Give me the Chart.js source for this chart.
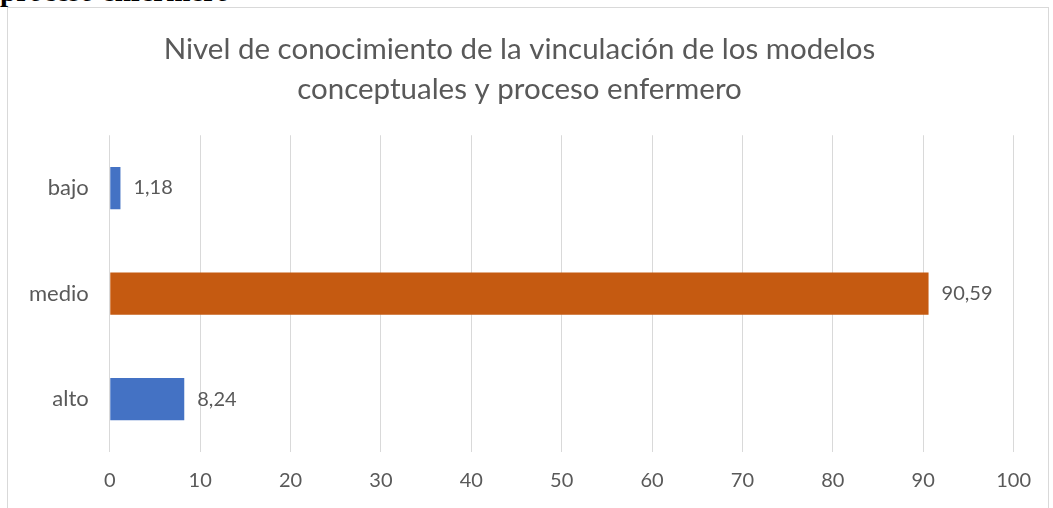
<!DOCTYPE html>
<html>
<head>
<meta charset="utf-8">
<script src="https://cdn.jsdelivr.net/npm/chart.js@4"></script>
<style>
  body { margin: 0; background: #fff; width: 1053px; height: 508px; overflow: hidden; position: relative; }
  #cut { position: absolute; left: 0; top: -25px; line-height: 30px; font: bold 29px "Liberation Serif", serif; color: #000; white-space: nowrap; }
  #frame { position: absolute; left: 7px; top: 7px; width: 1040px; height: 520px; border: 1px solid #d9d9d9; background: #fff; }
  canvas { display: block; }
</style>
</head>
<body>
<div id="cut">proceso enfermero</div>
<div id="frame"><canvas id="nivelChart" width="1040" height="510"></canvas></div>
<script>
const categorias = ['bajo', 'medio', 'alto'];
const porcentajes = [1.18, 90.59, 8.24];
const colores = ['#4472C4', '#C55A11', '#4472C4'];
const ticksX = [0, 10, 20, 30, 40, 50, 60, 70, 80, 90, 100];

// etiquetas de valor a la derecha de cada barra
const etiquetas = {
    id: 'etiquetas',
    afterDatasetsDraw(chart) {
        const ctx = chart.ctx;
        const meta = chart.getDatasetMeta(0);
        ctx.save();
        ctx.font = '20px Lato';
        ctx.fillStyle = '#595959';
        ctx.textBaseline = 'middle';
        meta.data.forEach((bar, i) => {
            const txt = porcentajes[i].toFixed(2).replace('.', ',');
            ctx.fillText(txt, bar.x + 13, bar.y);
        });
        ctx.restore();
    }
};

const ctx = document.getElementById('nivelChart').getContext('2d');
const nivelChart = new Chart(ctx, {
    type: 'bar',
    data: {
        labels: categorias,
        datasets: [{
            data: porcentajes,
            backgroundColor: colores,
            categoryPercentage: 1,
            barPercentage: 0.4
        }]
    },
    options: {
        indexAxis: 'y',
        responsive: false,
        animation: false,
        devicePixelRatio: 1,
        layout: { padding: { left: 0, right: 17, top: 0, bottom: 8 } },
        plugins: {
            legend: { display: false },
            tooltip: { enabled: false },
            title: {
                display: true,
                text: ['Nivel de conocimiento de la vinculación de los modelos', 'conceptuales y proceso enfermero'],
                color: '#595959',
                font: { family: 'Lato', size: 29.5, weight: 'normal', lineHeight: 1.36 },
                padding: { top: 21, bottom: 26 }
            }
        },
        scales: {
            x: {
                min: 0,
                max: 100,
                afterBuildTicks(axis) { axis.ticks = ticksX.map(v => ({ value: v })); },
                grid: { color: '#d9d9d9', drawTicks: false },
                border: { display: false },
                ticks: { color: '#595959', font: { family: 'Lato', size: 20 }, padding: 17 }
            },
            y: {
                grid: { display: false, drawTicks: false },
                border: { display: false },
                ticks: { color: '#595959', font: { family: 'Lato', size: 22 }, padding: 21 }
            }
        }
    },
    plugins: [etiquetas]
});
</script>
</body>
</html>
